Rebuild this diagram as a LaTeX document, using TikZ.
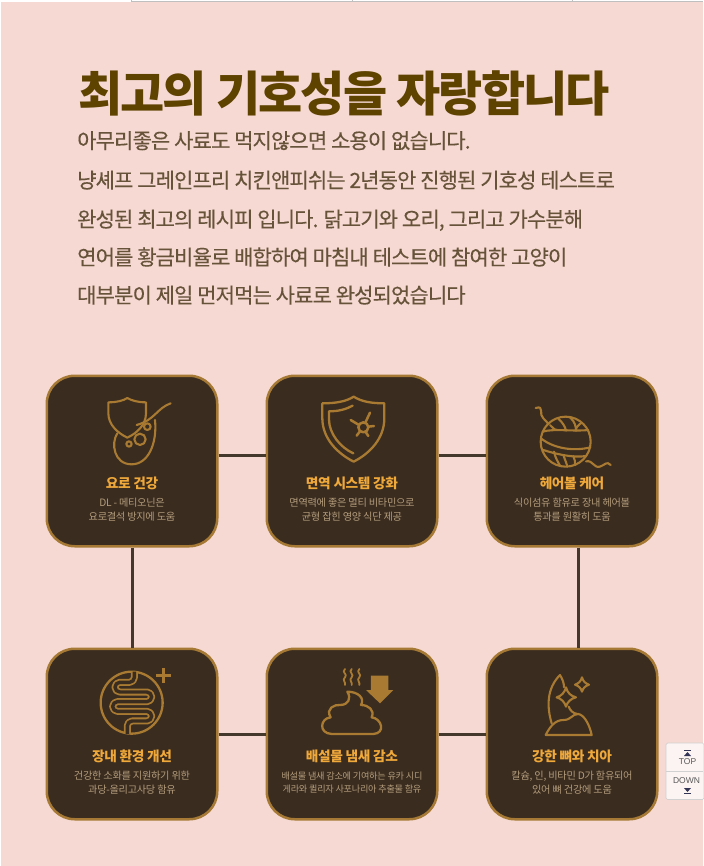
\documentclass[tikz,border=0pt]{standalone}
\usepackage{fontspec}
\setmainfont{Liberation Sans}
\newfontfamily\krtitle[LetterSpace=-3.8]{Noto Sans CJK KR}
\newfontfamily\krbody[LetterSpace=-4.2,FakeBold=0.25]{Noto Sans CJK KR}
\newfontfamily\krcard[LetterSpace=-3]{Noto Sans CJK KR}
\definecolor{bgpink}{HTML}{F6D9D2}
\definecolor{carddark}{HTML}{3A2C1F}
\definecolor{linkdark}{HTML}{44372C}
\definecolor{cardedge}{HTML}{A67A35}
\definecolor{icongold}{HTML}{A87A32}
\definecolor{headgold}{HTML}{EFA83A}
\definecolor{subtan}{HTML}{B39C7C}
\definecolor{titlebrown}{HTML}{5E4200}
\definecolor{bodybrown}{HTML}{66533A}
\definecolor{btnmark}{HTML}{333355}
\tikzset{
  card/.style={draw=cardedge,fill=carddark,line width=2.5pt,rounded corners=28pt,minimum width=170.5pt,minimum height=170.5pt,inner sep=0pt},
  link/.style={draw=linkdark,line width=3pt},
  icon/.style={draw=icongold,line width=2.1pt,line cap=round,line join=round},
  cardhead/.style={anchor=center,inner sep=0pt,text=headgold,font=\krcard\bfseries\fontsize{13.7}{15}\selectfont},
  cardsub/.style={anchor=center,inner sep=0pt,text=subtan,font=\krcard\fontsize{10.2}{12}\selectfont},
  cardsubsmall/.style={cardsub,font=\krcard\fontsize{9.15}{11}\selectfont},
  bodyline/.style={anchor=base west,inner sep=0pt,text=bodybrown,font=\krbody\fontsize{21}{24}\selectfont},
  btntext/.style={anchor=center,inner sep=0pt,text=black!65,font=\fontsize{8.5}{9}\selectfont},
  iconframe/.style={x=0.3333pt,y=-0.3333pt}
}
\begin{document}
\begin{tikzpicture}[x=1pt,y=-1pt]
\useasboundingbox (0,0) rectangle (703,866);
\fill[bgpink] (0,0) rectangle (703,866);
\fill[white] (0,0) rectangle (703,2);
\fill[white] (0,0) rectangle (1,866);
\draw[black!25,line width=0.8pt] (131,1.6) -- (703,1.6);
\foreach \tx in {131,352,572}{\draw[black!25,line width=0.6pt] (\tx,0) -- (\tx,1.6);}

\node[anchor=base west,inner sep=0pt,text=titlebrown,font=\krtitle\bfseries\fontsize{48}{52}\selectfont] (title) at (78,112) {최고의 기호성을 자랑합니다};
\node[bodyline] (b1) at (77,148.5) {아무리좋은 사료도 먹지않으면 소용이 없습니다.};
\node[bodyline] (b2) at (77,188) {냥셰프 그레인프리 치킨앤피쉬는 2년동안 진행된 기호성 테스트로};
\node[bodyline] (b3) at (77,227) {완성된 최고의 레시피 입니다. 닭고기와 오리, 그리고 가수분해};
\node[bodyline] (b4) at (77,265) {연어를 황금비율로 배합하여 마침내 테스트에 참여한 고양이};
\node[bodyline] (b5) at (77,303) {대부분이 제일 먼저먹는 사료로 완성되었습니다};

\node[card] (c1) at (132,461) {};
\node[card] (c2) at (352,461) {};
\node[card] (c3) at (572,461) {};
\node[card] (c4) at (132,734) {};
\node[card] (c5) at (352,734) {};
\node[card] (c6) at (572,734) {};
\draw[link] ([yshift=6pt]c1.east) -- ([yshift=6pt]c2.west);
\draw[link] ([yshift=6pt]c2.east) -- ([yshift=6pt]c3.west);
\draw[link] (c4.east) -- (c5.west);
\draw[link] (c5.east) -- (c6.west);
\draw[link] (c1.south) -- (c4.north);
\draw[link] ([xshift=6pt]c3.south) -- ([xshift=6pt]c6.north);

\node[cardhead] (h1) at (132,483) {요로 건강};
\node[cardsub] (s1a) at (132,503) {DL - 메티오닌은};
\node[cardsub] (s1b) at (132,517) {요로결석 방지에 도움};
\node[cardhead] (h2) at (352,483) {면역 시스템 강화};
\node[cardsub] (s2a) at (352,503) {면역력에 좋은 멀티 비타민으로};
\node[cardsub] (s2b) at (352,517) {균형 잡힌 영양 식단 제공};
\node[cardhead] (h3) at (572,483) {헤어볼 케어};
\node[cardsub] (s3a) at (572,503) {식이섬유 함유로 장내 헤어볼};
\node[cardsub] (s3b) at (572,517) {통과를 원활히 도움};
\node[cardhead] (h4) at (132,756) {장내 환경 개선};
\node[cardsub] (s4a) at (132,776) {건강한 소화를 지원하기 위한};
\node[cardsub] (s4b) at (132,790) {과당-올리고사당 함유};
\node[cardhead] (h5) at (352,756) {배설물 냄새 감소};
\node[cardsubsmall] (s5a) at (352,776) {배설물 냄새 감소에 기여하는 유카 시디};
\node[cardsubsmall] (s5b) at (352,789) {게라와 퀼리자 사포나리아 추출물 함유};
\node[cardhead] (h6) at (572,756) {강한 뼈와 치아};
\node[cardsub] (s6a) at (572,776) {칼슘, 인, 비타민 D가 함유되어};
\node[cardsub] (s6b) at (572,790) {있어 뼈 건강에 도움};

% icon 1
\begin{scope}[shift={(40,370)},iconframe]
\draw[icon] (205,97) .. controls (230,97) and (250,92) .. (262,84) .. controls (275,92) and (295,97) .. (318,97) -- (318,130) .. controls (318,165) and (290,190) .. (262,203) .. controls (235,190) and (205,165) .. (205,130) -- cycle;
\draw[icon] (232,190) .. controls (212,220) and (222,283) .. (275,283) .. controls (325,283) and (352,220) .. (345,150);
\draw[icon] (290,165) .. controls (345,150) and (350,115) .. (392,100);
\draw[icon] (300,208) circle[radius=17];
\draw[icon] (322,170) circle[radius=10];
\draw[icon] (267,222) circle[radius=8];
\end{scope}
% icon 2
\begin{scope}[shift={(260,370)},iconframe]
\draw[icon,line width=2.3pt] (187,100) .. controls (225,100) and (258,95) .. (281,80) .. controls (305,95) and (335,100) .. (373,100) -- (373,145) .. controls (373,205) and (330,250) .. (281,275) .. controls (232,250) and (187,205) .. (187,145) -- cycle;
\draw[icon,line width=2.3pt] (278,107) .. controls (258,118) and (235,124) .. (207,124) -- (207,148) .. controls (207,190) and (240,232) .. (280,250);
\draw[icon,line width=2.5pt] (310,172) circle[radius=15];
\draw[icon,line width=2.5pt] (316,158) -- (330,128) (297,165) -- (272,150) (325,170) -- (342,168) (317,186) -- (325,198) (300,184) -- (290,197);
\end{scope}
% icon 3
\begin{scope}[shift={(480,370)},iconframe]
\draw[icon] (257,215) circle[radius=75];
\draw[icon] (167,114) .. controls (195,105) and (175,135) .. (190,145) .. controls (198,150) and (200,158) .. (205,162);
\draw[icon] (318,274) .. controls (340,270) and (340,295) .. (360,290) .. controls (375,285) and (380,272) .. (392,285);
\draw[icon] (188,185) .. controls (220,175) and (280,185) .. (325,180);
\draw[icon] (183,205) .. controls (220,235) and (280,245) .. (331,232);
\draw[icon] (190,240) .. controls (220,250) and (280,265) .. (318,258);
\draw[icon] (210,165) .. controls (225,180) and (225,180) .. (232,180);
\draw[icon] (235,146) .. controls (250,160) and (255,170) .. (258,182);
\draw[icon] (270,142) .. controls (285,155) and (288,170) .. (288,182);
\draw[icon] (305,158) .. controls (295,165) and (285,175) .. (288,182);
\draw[icon] (222,245) .. controls (225,262) and (235,278) .. (240,287);
\draw[icon] (250,255) .. controls (255,270) and (260,280) .. (262,290);
\draw[icon] (280,258) .. controls (285,268) and (285,275) .. (285,285);
\end{scope}
% icon 4
\begin{scope}[shift={(40,640)},iconframe]
\draw[icon,line width=2.3pt] (275,188) circle[radius=93];
\draw[icon,line width=2.6pt,line cap=butt] (371,85) -- (371,129) (349,107) -- (393,107);
\draw[draw=icongold,line width=1.8pt,double=carddark,double distance=3.4pt,line join=round,rounded corners=4.8pt] (283,95) -- (283,127) -- (225,127) -- (225,156) -- (335,156) -- (335,185) -- (218,185) -- (218,214) -- (335,214) -- (335,243) -- (262,243) -- (262,282);
\end{scope}
% icon 5
\begin{scope}[shift={(260,640)},iconframe]
\foreach \sx in {255,275,298}{\draw[icon,line width=1.8pt] (\sx,87) .. controls (\sx-12,97) and (\sx+10,103) .. (\sx,112) .. controls (\sx-10,120) and (\sx+4,128) .. (\sx,135);}
\fill[icongold] (333,107) -- (385,107) -- (385,150) -- (400,150) -- (360,190) -- (318,150) -- (333,150) -- cycle;
\draw[icon,line width=2.3pt] (262,155) .. controls (295,155) and (315,175) .. (303,195) .. controls (325,195) and (345,210) .. (335,232) .. controls (365,235) and (378,280) .. (340,282) -- (215,282) .. controls (175,280) and (180,235) .. (212,232) .. controls (195,205) and (225,193) .. (240,195) .. controls (265,195) and (275,175) .. (262,155) -- cycle;
\end{scope}
% icon 6
\begin{scope}[shift={(480,640)},iconframe]
\draw[icon] (197,285) -- (335,285) .. controls (330,260) and (315,225) .. (295,222) .. controls (275,222) and (275,240) .. (250,240) .. controls (225,240) and (210,260) .. (197,285) -- cycle;
\draw[icon] (215,250) .. controls (200,200) and (200,145) .. (240,105) .. controls (248,118) and (252,130) .. (252,142);
\draw[icon] (266,200) .. controls (270,210) and (278,220) .. (292,222);
\draw[icon] (258,142) .. controls (262,158) and (272,168) .. (288,172) .. controls (272,176) and (262,186) .. (258,200) .. controls (254,186) and (244,176) .. (230,172) .. controls (244,168) and (254,158) .. (258,142) -- cycle;
\draw[icon] (306,112) .. controls (309,124) and (316,130) .. (327,134) .. controls (316,138) and (309,144) .. (306,155) .. controls (303,144) and (296,138) .. (285,134) .. controls (296,130) and (303,124) .. (306,112) -- cycle;
\end{scope}

% scroll buttons
\draw[draw=black!18,fill=white!70!bgpink,rounded corners=1.5pt,line width=0.7pt] (666,743) rectangle (704,799.5);
\draw[black!18,line width=0.7pt] (666,771) -- (703,771);
\node[btntext] (top) at (687.5,761.5) {TOP};
\node[btntext] (down) at (686.5,780.3) {DOWN};
\fill[btnmark] (684,750) rectangle (691,750.8);
\fill[btnmark] (687.5,752) -- (691,756) -- (684,756) -- cycle;
\fill[btnmark] (684,788) -- (691,788) -- (687.5,792) -- cycle;
\fill[btnmark] (684,793.2) rectangle (691,794);
\end{tikzpicture}
\end{document}
